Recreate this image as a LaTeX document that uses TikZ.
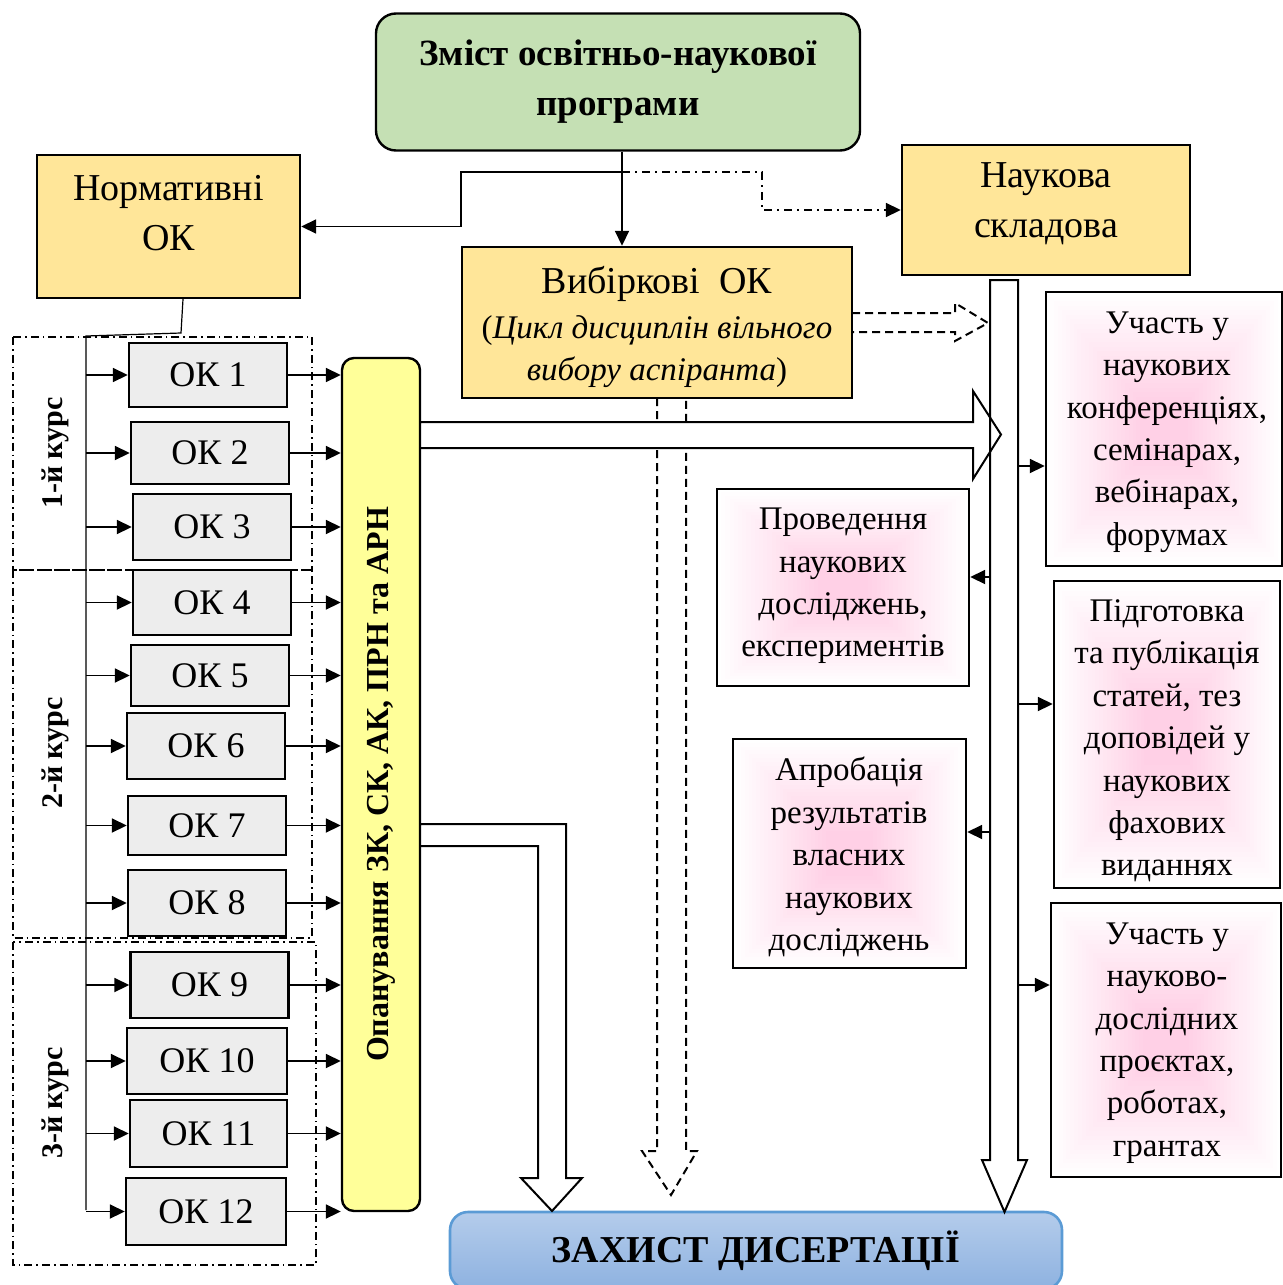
\documentclass[tikz,border=0pt]{standalone}
\usepackage{fontspec}
\setmainfont{Liberation Serif}
\usetikzlibrary{arrows.meta,calc}
\definecolor{greenf}{HTML}{C5E0B4}
\definecolor{orangef}{HTML}{FFE699}
\definecolor{grayf}{HTML}{EDEDED}
\definecolor{yellowf}{HTML}{FFFF99}
\definecolor{pinkc}{RGB}{255,180,215}
\definecolor{ztop}{HTML}{B4CCEB}
\definecolor{zbot}{HTML}{8EB2E0}
\definecolor{zline}{HTML}{5B9BD5}
\newcommand\fsTitle{\fontsize{18.5pt}{25pt}\selectfont\bfseries}
\newcommand\fsBig{\fontsize{19pt}{25pt}\selectfont}
\newcommand\fsOK{\fontsize{18pt}{22pt}\selectfont}
\newcommand\fsR{\fontsize{16.5pt}{21.2pt}\selectfont}
\newcommand\fsKurs{\fontsize{15pt}{17pt}\selectfont\bfseries}
\newcommand\fsBar{\fontsize{16pt}{18pt}\selectfont\bfseries}
\newcommand\fsZ{\fontsize{19pt}{22pt}\selectfont\bfseries}
\begin{document}
\begin{tikzpicture}[x=0.5pt,y=-0.5pt,
  box/.style={draw, line width=1.2pt, align=center, inner sep=0pt},
  okbox/.style={box, fill=grayf, font=\fsOK, minimum width=79pt},
  orbox/.style={box, fill=orangef, font=\fsBig},
  pinkbox/.style={box, fill=white, font=\fsR,
    path picture={
      \foreach \i in {0,...,24}{
        \pgfmathsetmacro\pct{\i*2.6}
        \fill[pinkc!\pct!white] ($(path picture bounding box.south west)!{\i/60}!(path picture bounding box.north east)$) rectangle ($(path picture bounding box.north east)!{\i/60}!(path picture bounding box.south west)$);
      }
    }},
  arr/.style={line width=0.9pt, -{Triangle[length=7.5pt,width=7pt]}},
  thinline/.style={line width=0.6pt},
  frame/.style={line width=0.7pt, dash pattern=on 4pt off 2pt on 0.8pt off 2pt},
  blockarr/.style={line width=1pt, fill=white, line join=miter},
  dblock/.style={line width=1pt, dash pattern=on 4pt off 2.5pt},
  kurs/.style={font=\fsKurs, rotate=90, inner sep=0pt}
]
\useasboundingbox (0,0) rectangle (1283,1285);
\clip (0,0) rectangle (1283,1285);

% frames
\draw[frame] (13,337) rectangle (312,570);
\draw[frame] (13,570) rectangle (312,938);
\draw[frame] (13,942) rectangle (316,1265);
\node[kurs] (k1) at (55,453) {1-й курс};
\node[kurs] (k2) at (55,753) {2-й курс};
\node[kurs] (k3) at (55,1103) {3-й курс};

% top nodes
\node[box, fill=greenf, rounded corners=10pt, minimum width=242pt, minimum height=68.5pt, font=\fsTitle] (title) at (618,82) {Зміст освітньо-наукової\\програми};
\node[orbox, minimum width=131.5pt, minimum height=71.5pt] (norm) at (168.5,226.5) {};
\node[font=\fsBig, align=center, inner sep=0pt] (normt) at (168.5,213) {Нормативні\\ОК};
\node[orbox, minimum width=144pt, minimum height=65pt] (nauk) at (1046,210) {};
\node[font=\fsBig, align=center, inner sep=0pt] (naukt) at (1046,204) {Наукова\\складова};
\node[orbox, minimum width=195pt, minimum height=75.5pt] (vyb) at (657,322.5) {};
\node[font=\fsR, align=center, inner sep=0pt] (vybt) at (657,327) {{\fsBig Вибіркові\ \ ОК}\\[1.5pt](\textit{Цикл дисциплін вільного}\\\textit{вибору аспіранта})};

% OK boxes
\node[okbox, minimum height=32pt] (ok1) at (208,375) {ОК 1};
\node[okbox, minimum height=31pt] (ok2) at (210,453) {ОК 2};
\node[okbox, minimum height=33pt] (ok3) at (212,527) {ОК 3};
\node[okbox, minimum height=32.5pt] (ok4) at (212,602.5) {ОК 4};
\node[okbox, minimum height=30.5pt] (ok5) at (210,675.5) {ОК 5};
\node[okbox, minimum height=33pt] (ok6) at (206,746) {ОК 6};
\node[okbox, minimum height=29.5pt] (ok7) at (207,825.5) {ОК 7};
\node[okbox, minimum height=33pt] (ok8) at (207,903) {ОК 8};
\node[okbox, minimum height=33pt] (ok9) at (209.5,985) {ОК 9};
\node[okbox, minimum height=33pt, minimum width=80pt] (ok10) at (207,1061) {ОК 10};
\node[okbox, minimum height=33.5pt, minimum width=78.5pt] (ok11) at (208.5,1133.5) {ОК 11};
\node[okbox, minimum height=33.5pt, minimum width=80pt] (ok12) at (206,1211.5) {ОК 12};

% yellow bar
\node[box, fill=yellowf, rounded corners=6pt, minimum width=39pt, minimum height=426.5pt] (bar) at (381,784.5) {};
\node[font=\fsBar, rotate=90, inner sep=0pt] (bartext) at (bar.center) {Опанування ЗК, СК, АК, ПРН та АРН};

% pink boxes
\node[pinkbox, minimum width=118pt, minimum height=137pt] (conf) at (1164,429) {};
\node[font=\fsR, align=center, inner sep=0pt] (conft) at (1167,432) {Участь у\\наукових\\конференціях,\\семінарах,\\вебінарах,\\форумах};
\node[pinkbox, minimum width=113pt, minimum height=153.5pt] (pidg) at (1167,734.5) {};
\node[font=\fsR, align=center, inner sep=0pt] (pidgt) at (1167,741) {Підготовка\\та публікація\\статей, тез\\доповідей у\\наукових\\фахових\\виданнях};
\node[pinkbox, minimum width=115pt, minimum height=137pt] (grant) at (1166,1040) {};
\node[font=\fsR, align=center, inner sep=0pt] (grantt) at (1167,1043) {Участь у\\науково-\\дослідних\\проєктах,\\роботах,\\грантах};
\node[pinkbox, minimum width=126pt, minimum height=98.5pt] (prov) at (843,587.5) {};
\node[font=\fsR, align=center, inner sep=0pt] (provt) at (843,586) {Проведення\\наукових\\досліджень,\\експериментів};
\node[pinkbox, minimum width=116.5pt, minimum height=114.5pt] (aprob) at (849.5,853.5) {};
\node[font=\fsR, align=center, inner sep=0pt] (aprobt) at (849,857) {Апробація\\результатів\\власних\\наукових\\досліджень};

% defense box
\node[box, draw=zline, line width=1.3pt, rounded corners=9pt, top color=ztop, bottom color=zbot, minimum width=306pt, minimum height=38.5pt, font=\fsZ] (zah) at (756,1250.5) {ЗАХИСТ ДИСЕРТАЦІЇ};

% connectors from title
\coordinate (j1) at (622,172);
\draw[arr] ([xshift=2pt]title.south) -- ([xshift=2pt]title.south |- vyb.north);
\draw[arr] (j1) -- (461,172) |- (norm.east);
\draw[arr, dash pattern=on 4pt off 2.5pt on 1pt off 2.5pt] (j1) -- (762,172) |- (nauk.west);

% trunk of normative
\coordinate (tr) at (86,336);
\draw[thinline] ([xshift=7.25pt]norm.south) -- (181,333) -- (tr) -- (86,1210);
\foreach \k in {1,...,12}{
  \draw[arr] (tr |- ok\k.west) -- (ok\k.west);
  \draw[arr] (ok\k.east) -- (ok\k.east -| bar.west);
}

% dashed block arrows from vybirkovi
\draw[dblock] (657,398) -- (657,1151) -- (642,1151) -- (671,1195) -- (697,1151) -- (686,1151) -- (686,398);
\draw[dblock] (852,313) -- (955,313) -- (955,303) -- (988,323) -- (955,341) -- (955,332) -- (852,332);

% big horizontal block arrow
\draw[blockarr] (420,422) -- (973,422) -- (973,391) -- (1001,434.5) -- (973,479) -- (973,448) -- (420,448) -- cycle;
% vertical block arrow to defense
\draw[line width=1pt, line join=miter] (990,280) -- (990,1160) -- (982,1160) -- (1004.5,1212) -- (1027,1160) -- (1018,1160) -- (1018,280) -- cycle;
% block arrow from bar down to defense
\draw[blockarr] (420,824) -- (566,824) -- (566,1178) -- (582,1178) -- (552,1211) -- (521,1178) -- (538,1178) -- (538,846) -- (420,846) -- cycle;

% arrows from vertical to research boxes
\coordinate (s1) at (1018,466);
\coordinate (s2) at (1018,704);
\coordinate (s3) at (1018,985);
\coordinate (s4) at (990,577);
\coordinate (s5) at (990,832);
\draw[arr] (s1) -- (s1 -| conf.west);
\draw[arr] (s2) -- (s2 -| pidg.west);
\draw[arr] (s3) -- (s3 -| grant.west);
\draw[arr] (s4) -- (s4 -| prov.east);
\draw[arr] (s5) -- (s5 -| aprob.east);
\end{tikzpicture}
\end{document}
